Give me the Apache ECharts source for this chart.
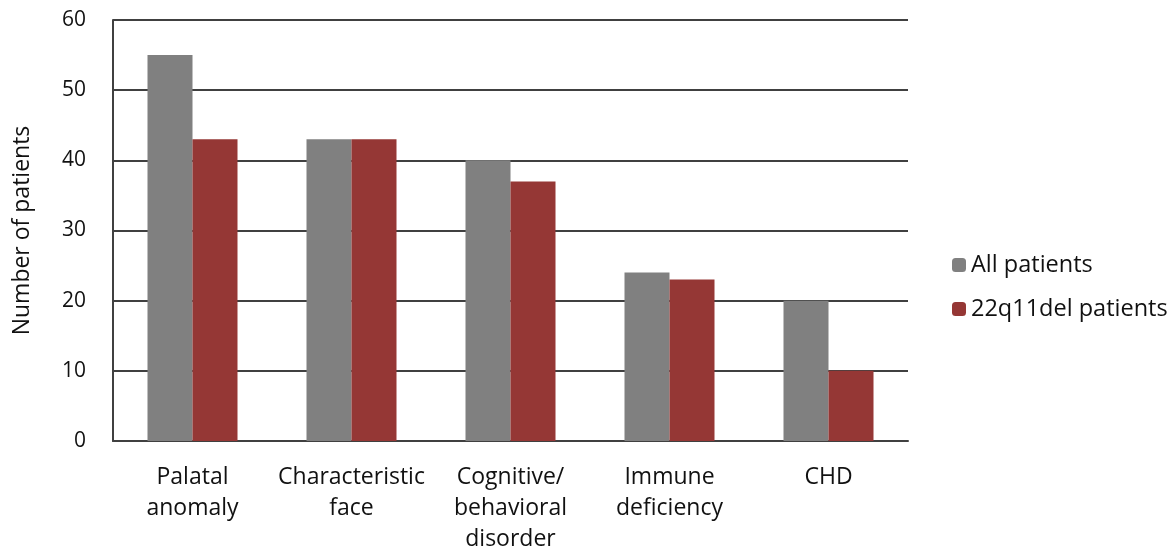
<!DOCTYPE html>
<html>
<head>
<meta charset="utf-8">
<script src="https://cdn.jsdelivr.net/npm/echarts@6/dist/echarts.min.js"></script>
<style>
  html, body { margin: 0; padding: 0; background: #fff; }
  #chart { width: 1172px; height: 552px; }
</style>
</head>
<body>
<div id="chart"></div>
<script>
  // données
  const categories = ['Palatal\nanomaly', 'Characteristic\nface', 'Cognitive/\nbehavioral\ndisorder', 'Immune\ndeficiency', 'CHD'];
  const allPatients = [55, 43, 40, 24, 20];
  const delPatients = [43, 43, 37, 23, 10];
  const seriesNames = ['All patients', '22q11del patients'];

  const FONT = '"Open Sans", "Liberation Sans", sans-serif';
  const chart = echarts.init(document.getElementById('chart'), null, { renderer: 'canvas' });

  chart.setOption({
    animation: false,
    textStyle: { fontFamily: FONT },
    grid: { left: 113, right: 264, top: 20, bottom: 111, outerBoundsMode: 'none', containLabel: false },
    legend: {
      orient: 'vertical',
      left: 947, top: 248,
      itemWidth: 14, itemHeight: 14, itemGap: 20,
      textStyle: { fontSize: 23.5, lineHeight: 20, color: '#111', fontFamily: FONT },
      data: seriesNames
    },
    xAxis: {
      type: 'category',
      data: categories,
      axisLine: { lineStyle: { color: '#404040', width: 2 } },
      axisTick: { show: false },
      axisLabel: { fontSize: 23, color: '#111', lineHeight: 31, margin: 21, interval: 0, align: 'center' }
    },
    yAxis: {
      type: 'value',
      min: 0, max: 60, interval: 10,
      name: 'Number of patients',
      nameLocation: 'middle',
      nameGap: 79,
      nameTextStyle: { fontSize: 23, color: '#111' },
      axisLine: { show: true, lineStyle: { color: '#404040', width: 2 } },
      axisTick: { show: false },
      axisLabel: { fontSize: 21, color: '#111', margin: 27 },
      splitLine: { lineStyle: { color: '#404040', width: 2 } }
    },
    series: [
      { name: seriesNames[0], type: 'bar', data: allPatients, barWidth: 45, barGap: '0%', itemStyle: { color: '#808080' } },
      { name: seriesNames[1], type: 'bar', data: delPatients, barWidth: 45, itemStyle: { color: '#953735' } }
    ]
  });
</script>
</body>
</html>
